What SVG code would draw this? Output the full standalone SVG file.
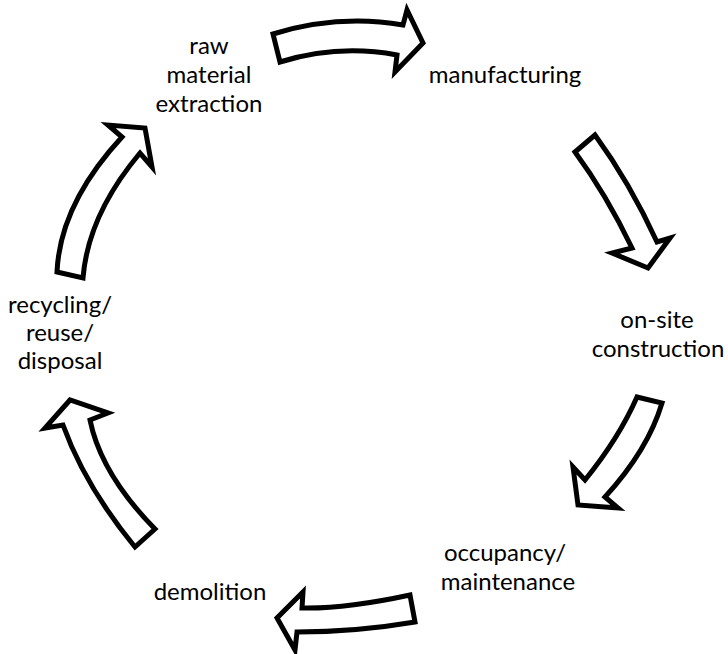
<svg xmlns="http://www.w3.org/2000/svg" width="728" height="654" viewBox="0 0 728 654">
<style>
.arr{fill:#fff;stroke:#000;stroke-width:5;stroke-linejoin:miter;stroke-miterlimit:10}
.lbl{font-family:"Lato","Open Sans",sans-serif;font-size:24px;fill:#000;text-anchor:middle}
</style>
<rect width="728" height="654" fill="#fff"/>
<g id="connectors">
<path class="arr" d="M273,34 Q338,14 403,25 L407,10 L423,43 L395,72 L397,55 Q338,44 280,62 Z"/>
<path class="arr" d="M595,135 Q630,183 657,242 L670,238 L648,268 L612,253 L632,248 Q606,194 575,152 Z"/>
<path class="arr" d="M637,397 L662,403 Q648,450 605,497 L618,508 L578,505 L573,467 L585,480 Q619,438 637,397 Z"/>
<path class="arr" d="M410,595 Q345,609 302,608 L303,592 L277,618 L295,650 L297,632 Q356,632 415,622 Z"/>
<path class="arr" d="M135,547 Q85,486 63,425 L45,428 L70,400 L108,413 L90,420 Q101,474 155,529 Z"/>
<path class="arr" d="M57,272 Q60,204 122,137 L108,125 L145,128 L152,167 L140,153 Q88,215 83,278 Z"/>
</g>
<g id="raw-material-extraction">
<text class="lbl" x="209" y="54">raw</text>
<text class="lbl" x="209" y="83">material</text>
<text class="lbl" x="209" y="112">extraction</text>
</g>
<g id="manufacturing">
<text class="lbl" x="505" y="83">manufacturing</text>
</g>
<g id="on-site-construction">
<text class="lbl" x="657" y="328">on-site</text>
<text class="lbl" x="658" y="357">construction</text>
</g>
<g id="occupancy-maintenance">
<text class="lbl" x="505" y="561">occupancy/</text>
<text class="lbl" x="508" y="590">maintenance</text>
</g>
<g id="demolition">
<text class="lbl" x="210" y="600">demolition</text>
</g>
<g id="recycling-reuse-disposal">
<text class="lbl" x="60" y="313">recycling/</text>
<text class="lbl" x="60" y="341">reuse/</text>
<text class="lbl" x="60" y="369">disposal</text>
</g>
</svg>
